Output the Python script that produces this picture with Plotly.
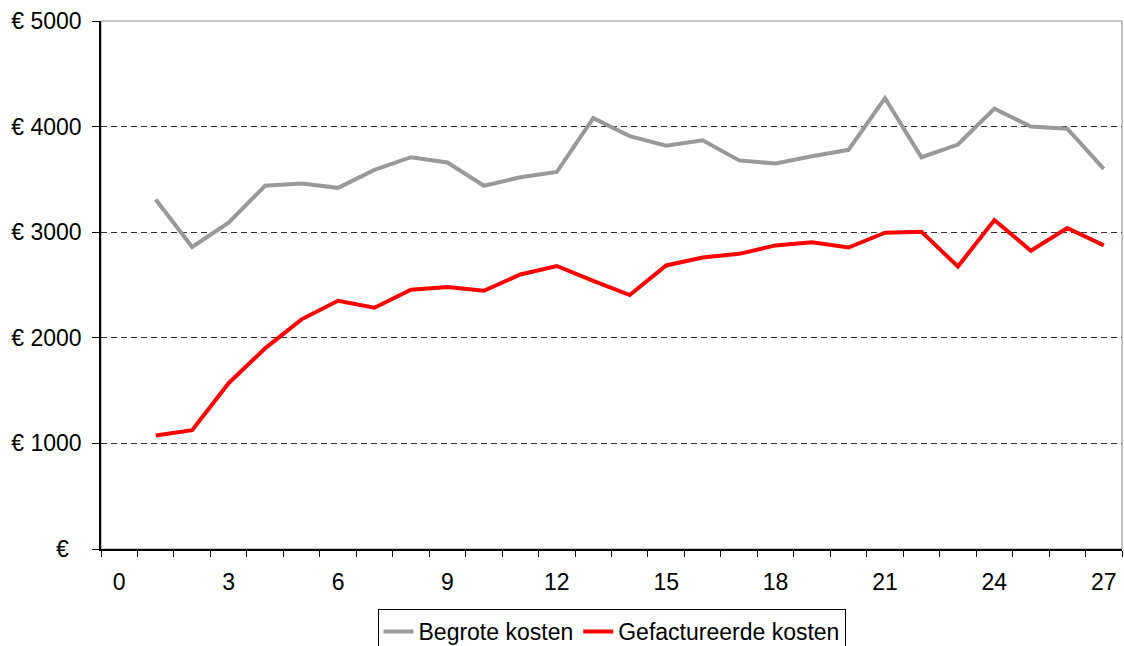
import plotly.graph_objects as go

weeks = list(range(1, 28))
begrote = [3310, 2860, 3090, 3440, 3460, 3420, 3590, 3710, 3660, 3440, 3520, 3570, 4080,
           3910, 3820, 3870, 3680, 3650, 3720, 3780, 4270, 3710, 3830, 4170, 4000, 3980, 3600]
gefactureerd = [1075, 1125, 1570, 1900, 2175, 2350, 2285, 2455, 2480, 2445, 2600, 2680, 2540,
                2405, 2685, 2760, 2795, 2875, 2905, 2855, 2995, 3005, 2675, 3115, 2825, 3040, 2875]
x_tickvals = list(range(0, 28, 3))
y_tickvals = [0, 1000, 2000, 3000, 4000, 5000]
y_ticktext = ["€\u00a0\u00a0", "€ 1000", "€ 2000", "€ 3000", "€ 4000", "€ 5000"]

fig = go.Figure()
fig.add_trace(go.Scatter(x=weeks, y=begrote, mode="lines", name="Begrote kosten",
                         line=dict(color="#999999", width=4)))
fig.add_trace(go.Scatter(x=weeks, y=gefactureerd, mode="lines", name="Gefactureerde kosten",
                         line=dict(color="#FF0000", width=4)))

fig.update_layout(
    width=1124, height=646,
    margin=dict(l=101, r=2, t=21, b=97, autoexpand=False),
    paper_bgcolor="white", plot_bgcolor="white",
    font=dict(family="Liberation Sans, Arial, sans-serif", size=23, color="black"),
    showlegend=True,
    legend=dict(orientation="h", x=0.5, xanchor="center",
                yref="container", y=(646 - 609) / 646, yanchor="top",
                bordercolor="black", borderwidth=1, font=dict(size=23),
                itemwidth=30, tracegroupgap=0),
    shapes=[dict(type="rect", xref="paper", yref="paper", x0=0, y0=0, x1=1, y1=1,
                 line=dict(color="#888888", width=1), layer="below")],
)
fig.update_xaxes(
    range=[-0.5, 27.5], tickmode="array", tickvals=x_tickvals, ticks="",
    showgrid=False, zeroline=False, showline=True, linecolor="black", linewidth=1.5,
    ticklabelstandoff=12, automargin=False,
    minor=dict(tickmode="linear", tick0=-0.5, dtick=1, ticks="outside", ticklen=6,
               tickcolor="black", tickwidth=1, showgrid=False),
)
fig.update_yaxes(
    range=[0, 5000], tickmode="array", tickvals=y_tickvals, ticktext=y_ticktext,
    ticks="outside", ticklen=7, tickcolor="black", tickwidth=1,
    showgrid=True, gridcolor="#333333", gridwidth=1, griddash="6px,4px",
    zeroline=False, showline=True, linecolor="black", linewidth=1.5,
    ticklabelstandoff=6, automargin=False,
)
fig.write_html("out.html", config={"displayModeBar": False},
               post_script="document.body.style.margin='0';document.body.style.overflow='hidden';")
